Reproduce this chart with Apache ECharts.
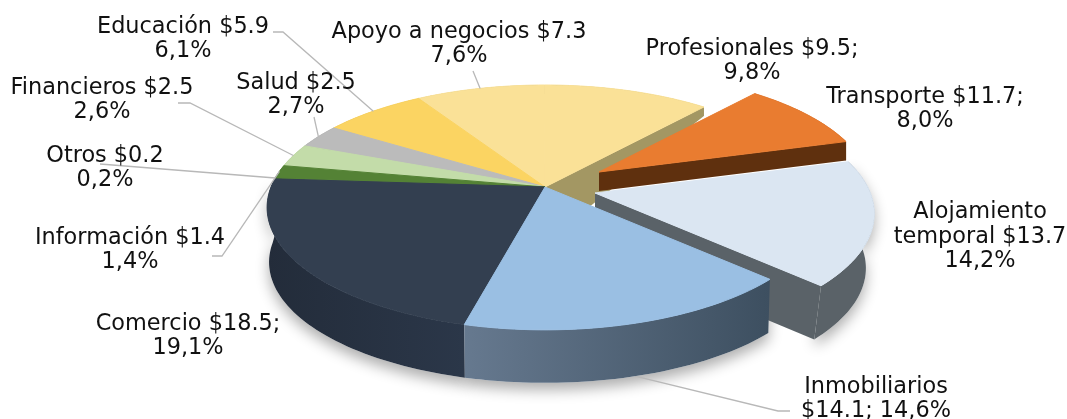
<!DOCTYPE html>
<html><head><meta charset="utf-8">
<style>html,body{margin:0;padding:0;background:#fff}#c{width:1067px;height:419px}</style>
<script src="https://cdn.jsdelivr.net/npm/echarts@6/dist/echarts.min.js"></script>
</head><body><div id="c"></div>
<script>
// ---- data (clockwise from the start angle) ----
const categories = ['Apoyo a negocios','Profesionales','Transporte','Alojamiento temporal','Inmobiliarios','Comercio','Otros','Información','Financieros','Salud','Educación'];
const amounts    = [7.3,9.5,11.7,13.7,14.1,18.5,0.2,1.4,2.5,2.5,5.9];
const percents   = [7.6,9.8,8.0,14.2,14.6,19.1,0.2,1.4,2.6,2.7,6.1];
const labelTexts = [
  'Apoyo a negocios $7.3\n7,6%','Profesionales $9.5;\n9,8%','Transporte $11.7;\n8,0%',
  'Alojamiento\ntemporal $13.7\n14,2%','Inmobiliarios\n$14.1; 14,6%','Comercio $18.5;\n19,1%',
  'Otros $0.2\n0,2%','Información $1.4\n1,4%','Financieros $2.5\n2,6%','Salud $2.5\n2,7%','Educación $5.9\n6,1%'];
// ---- style / layout ----
const topColors  = ['#FAE197','#FAE197','#E97C30','#DBE6F2','#9ABFE3','#333F50','#548235','#548235','#C3DCA9','#BBBBBB','#FBD462'];
const bevelColors= ['#FAE197','#FAE197','#E97C30','#EEF3F8','#B4D5F3','#4A5A72','#548235','#548235','#C3DCA9','#BBBBBB','#FBD462'];
const wallColors = ['#A39763','#A39763','#5F300E','#5A6268',['#66798F','#3D4F60'],['#232C3A','#2B3749'],'#36541F','#36541F','#7E8F6D','#777','#A38A40'];
const labelPos   = [[459,44],[752,61],[925,109],[980,237],[876,399],[188,336],[105,168],[130,250],[102,100],[296,95],[183,39]];
const leaderVia  = [[[473,71]],null,null,null,[[790,411],[778,411]],null,[[100,164]],[[212,256],[222,256]],[[178,103],[190,103]],[[314,117]],[[273,32],[283,32]]];
const leaderRimDrop = [0,0,0,0,1,0,0,0,0,0,0];
const drawOrder  = [0,1,10,9,8,7,6,2,3,5,4];
const startAngle = 328.2;
const pie = {x:545,y:187,rx:274,ry:119,p:0.167};
const explode = {2:{dx:54,dy:-15,s:0.98,cap:19,k:0,radial:1},3:{dx:50,dy:6,s:1.005,cap:99,k:0.03,radial:1},1:{dx:0,dy:0,s:1,cap:99,k:0,radial:1}};
const depthStops = [[107,9],[187,55],[330,53]];

const total = percents.reduce((a,b)=>a+b,0);
const angles = []; { let a = startAngle; percents.forEach(v=>{ const e=a+v/total*360; angles.push([a,e]); a=e; }); }
function depth(y){
  const d=depthStops;
  if(y<=d[0][0]) return d[0][1];
  for(let i=1;i<d.length;i++) if(y<=d[i][0]) return d[i-1][1]+(d[i][1]-d[i-1][1])*(y-d[i-1][0])/(d[i][0]-d[i-1][0]);
  return d[d.length-1][1];
}
function proj(c,deg){
  const t=deg*Math.PI/180,u=Math.sin(t),v=Math.cos(t),w=1+pie.p*v;
  return [c.x+pie.rx*c.s*u/w, c.y-pie.ry*c.s*v/w];
}
function drop(c,P){ return [P[0]-(P[0]-c.x)*c.k, P[1]+Math.min(depth(P[1]),c.cap)]; }
function arc(c,a0,a1){ const r=[],n=Math.max(2,Math.ceil((a1-a0)/1.5)); for(let i=0;i<=n;i++) r.push(proj(c,a0+(a1-a0)*i/n)); return r; }
function wallFill(col){
  return Array.isArray(col)?new echarts.graphic.LinearGradient(0,0,1,0,[{offset:0,color:col[0]},{offset:1,color:col[1]}]):col;
}
function renderItem(params,api){
  const idx=api.value(0), rank=params.dataIndex, base=10+rank*5;
  const e=explode[idx]||{dx:0,dy:0,s:1,cap:99,k:0.007};
  const c={x:pie.x+e.dx,y:pie.y+e.dy,s:e.s,cap:e.cap,k:e.k===undefined?0.007:e.k};
  const [a0,a1]=angles[idx];
  const rim=arc(c,a0,a1), apex=[c.x,c.y];
  const wall=rim.concat(rim.map(P=>drop(c,P)).reverse());
  const kids=[];
  if(idx===3||idx===4||idx===5){
    kids.push({type:'polygon',z2:1,shape:{points:wall},silent:true,
      style:{fill:'#fff',shadowBlur:14,shadowColor:'rgba(0,0,0,0.32)',shadowOffsetY:7}});
  }
  kids.push({type:'polygon',z2:base,shape:{points:wall},silent:true,style:{fill:wallFill(wallColors[idx])}});
  if(e.radial){
    const end=rim[rim.length-1];
    kids.push({type:'polygon',z2:base+1,shape:{points:[apex,end,drop(c,end),drop(c,apex)]},silent:true,
      style:{fill:Array.isArray(wallColors[idx])?wallColors[idx][0]:wallColors[idx]}});
  }
  // soft bevel along the near rim (under the top face)
  const lo=Math.max(a0,62), hi=Math.min(a1,300);
  if(hi>lo){
    const band=arc(c,lo,hi).map(P=>[P[0],P[1]+1.5]);
    kids.push({type:'polyline',z2:base+2,shape:{points:band},silent:true,
      style:{fill:'none',stroke:bevelColors[idx],lineWidth:3,lineCap:'butt',shadowBlur:7,shadowColor:bevelColors[idx],shadowOffsetY:1}});
  }
  kids.push({type:'polygon',z2:base+3,shape:{points:[apex].concat(rim)},silent:true,
    style:{fill:topColors[idx],stroke:topColors[idx],lineWidth:1,lineJoin:'round'}});
  // leader line
  if(leaderVia[idx]){
    const mid=(a0+a1)/2; let end=proj(c,mid);
    if(leaderRimDrop[idx]) end=drop(c,end);
    kids.push({type:'polyline',z2:leaderRimDrop[idx]?2:200,shape:{points:leaderVia[idx].concat([end])},silent:true,
      style:{fill:'none',stroke:'#B8B8B8',lineWidth:1.3}});
  }
  kids.push({type:'text',z2:300,silent:true,style:{x:labelPos[idx][0],y:labelPos[idx][1],text:labelTexts[idx],
    fill:'#111',font:'22.4px "DejaVu Sans"',lineHeight:24.5,align:'center',verticalAlign:'middle'}});
  return {type:'group',children:kids};
}
const chart=echarts.init(document.getElementById('c'),null,{renderer:'canvas'});
chart.setOption({
  animation:false,
  backgroundColor:'#fff',
  series:[{type:'custom',coordinateSystem:'none',silent:true,clip:false,
    renderItem:renderItem,
    data:drawOrder.map(i=>({name:categories[i],value:[i,percents[i],amounts[i]]}))}]
});
</script></body></html>
